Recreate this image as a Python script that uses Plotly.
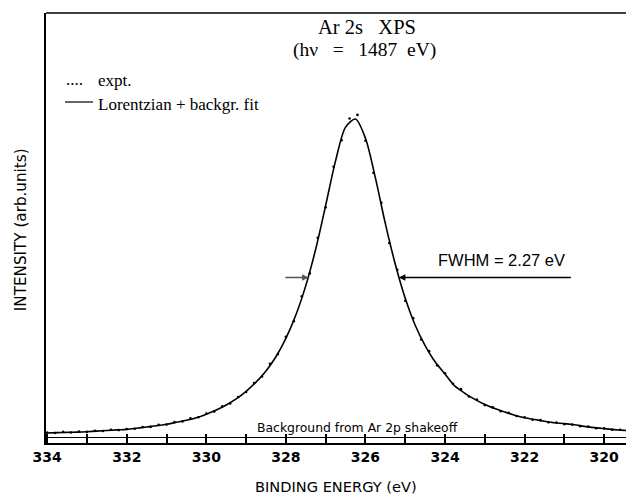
import plotly.graph_objects as go

# ---- data (intensity in arb. units) ----
fit_energy = [334.00, 333.75, 333.50, 333.25, 333.00, 332.75, 332.50, 332.25, 332.00,
              331.75, 331.50, 331.25, 331.00, 330.75, 330.50, 330.25, 330.00, 329.75,
              329.50, 329.25, 329.00, 328.75, 328.50, 328.25, 328.00, 327.75, 327.50,
              327.25, 327.00, 326.75, 326.50, 326.25, 326.00, 325.75, 325.50, 325.25,
              325.00, 324.75, 324.50, 324.25, 324.00, 323.75, 323.50, 323.25, 323.00,
              322.75, 322.50, 322.25, 322.00, 321.75, 321.50, 321.25, 321.00, 320.75,
              320.50, 320.25, 320.00, 319.75, 319.50, 319.25]
fit_intensity = [4.0, 4.3, 4.6, 4.8, 5.2, 5.8, 6.4, 7.0, 7.5,
                 8.6, 9.8, 11.0, 12.5, 14.5, 16.5, 19.0, 22.5, 26.5,
                 31.5, 37.5, 45.0, 54.0, 65.0, 79.0, 97.0, 120.0, 149.0,
                 185.0, 228.0, 272.0, 305.0, 313.0, 294.0, 255.0, 210.0, 170.0,
                 136.5, 110.0, 90.0, 74.0, 62.0, 50.0, 43.0, 37.0, 32.0,
                 28.0, 24.5, 21.5, 19.0, 17.2, 15.5, 14.0, 13.2, 12.0,
                 10.5, 9.2, 8.2, 7.3, 6.5, 5.8]

expt_energy = [334.0, 333.8, 333.6, 333.4, 333.2, 333.0, 332.8, 332.6, 332.4, 332.2,
               332.0, 331.8, 331.6, 331.4, 331.2, 331.0, 330.8, 330.6, 330.4, 330.2,
               330.0, 329.8, 329.6, 329.4, 329.2, 329.0, 328.8, 328.6, 328.4, 328.2,
               328.0, 327.8, 327.6, 327.4, 327.2, 327.0, 326.8, 326.6, 326.4, 326.2,
               326.0, 325.8, 325.6, 325.4, 325.2, 325.0, 324.8, 324.6, 324.4, 324.2,
               324.0, 323.8, 323.6, 323.4, 323.2, 323.0, 322.8, 322.6, 322.4, 322.2,
               322.0, 321.8, 321.6, 321.4, 321.2, 321.0, 320.8, 320.6, 320.4, 320.2,
               320.0, 319.8, 319.6, 319.4]
expt_intensity = [4.3, 3.9, 5.0, 4.4, 5.4, 5.0, 6.1, 5.9, 7.1, 6.8,
                  7.9, 8.1, 9.9, 10.0, 12.0, 12.2, 14.6, 15.3, 18.3, 19.4,
                  23.2, 25.0, 30.1, 33.0, 39.4, 44.3, 53.2, 59.6, 72.0, 81.6,
                  98.5, 114.0, 138.5, 161.0, 196.0, 226.0, 266.0, 292.0, 313.5, 317.0,
                  291.5, 260.0, 230.5, 191.0, 164.5, 134.0, 117.0, 96.0, 84.5, 70.5,
                  62.8, 52.3, 47.1, 39.8, 36.8, 31.4, 29.2, 25.3, 23.9, 20.6,
                  19.5, 17.0, 16.6, 14.4, 14.2, 12.5, 12.2, 10.7, 10.4, 8.7,
                  8.5, 7.2, 7.1, 5.8]

tick_values = [334, 333, 332, 331, 330, 329, 328, 327, 326, 325, 324, 323, 322, 321, 320]
tick_labels = ["334", "", "332", "", "330", "", "328", "", "326", "", "324", "", "322", "", "320"]

# FWHM marker positions (energy of half maximum on each side, half-max intensity)
fwhm_left_e = 327.43
fwhm_right_e = 325.16
fwhm_level = 157.0
fwhm_left_tail = 328.05
fwhm_right_tail = 320.8

fig = go.Figure()
fig.add_trace(go.Scatter(x=fit_energy, y=fit_intensity, mode="lines",
                         line=dict(color="black", width=1.6, shape="spline", smoothing=0.8),
                         hoverinfo="skip", showlegend=False))
fig.add_trace(go.Scatter(x=expt_energy, y=expt_intensity, mode="markers",
                         marker=dict(color="black", size=2.6),
                         showlegend=False))

serif = "Liberation Serif"
sans = "DejaVu Sans"


def note(text, x, y, size, family, xanchor="center", **kw):
    return dict(text=text, x=x, y=y, xref="paper", yref="paper", showarrow=False,
                xanchor=xanchor, yanchor="middle", borderpad=0,
                font=dict(family=family, size=size, color="black"), **kw)


annotations = [
    note("Ar 2s&nbsp;&nbsp;&nbsp;XPS", 0.546, 0.968, 20.5, serif),
    note("(hν&nbsp;&nbsp;&nbsp;=&nbsp;&nbsp;&nbsp;1487&nbsp;&nbsp;eV)", 0.541, 0.914, 19.5, serif),
    note("....", 0.0323, 0.846, 17, serif, xanchor="left"),
    note("expt.", 0.0867, 0.842, 17, serif, xanchor="left"),
    note("Lorentzian + backgr. fit", 0.0867, 0.788, 17, serif, xanchor="left"),
    note("FWHM = 2.27 eV", 0.665, 0.4256, 16.5, "Liberation Sans", xanchor="left"),
    note("Background from Ar 2p shakeoff", 0.5298, 0.036, 12.4, sans),
    note("BINDING ENERGY (eV)", 0.493, -0.1, 14.6, sans),
    note("INTENSITY (arb.units)", -0.0425, 0.495, 15.2, sans, textangle=-90),
    # FWHM arrows
    dict(text="", x=fwhm_left_e, y=fwhm_level, ax=fwhm_left_tail, ay=fwhm_level,
         xref="x", yref="y", axref="x", ayref="y", showarrow=True,
         arrowhead=2, arrowsize=1, arrowwidth=1.3, arrowcolor="#555"),
    dict(text="", x=fwhm_right_e, y=fwhm_level, ax=fwhm_right_tail, ay=fwhm_level,
         xref="x", yref="y", axref="x", ayref="y", showarrow=True,
         arrowhead=2, arrowsize=1, arrowwidth=1.3, arrowcolor="black"),
]

shapes = [
    # top frame line
    dict(type="line", xref="paper", yref="paper", x0=0, x1=1, y0=1, y1=1,
         line=dict(color="black", width=1.6)),
    # legend line sample
    dict(type="line", xref="paper", yref="paper", x0=0.0323, x1=0.0799, y0=0.793, y1=0.793,
         line=dict(color="black", width=1.2)),
]

# the page body adds an 8px offset, so the figure is 8px smaller than the window
fig.update_layout(
    width=626, height=490,
    margin=dict(l=38, r=0, t=5, b=55),
    paper_bgcolor="white", plot_bgcolor="white",
    annotations=annotations, shapes=shapes,
    showlegend=False,
    xaxis=dict(range=[334.03, 319.25], tickmode="array", tickvals=tick_values,
               ticktext=tick_labels, ticks="inside", ticklen=9, tickwidth=1.6,
               tickcolor="black", showline=True, linecolor="black", linewidth=1.6,
               showgrid=False, zeroline=False,
               tickfont=dict(family=sans, size=14, color="black", weight="bold")),
    yaxis=dict(range=[-5.9, 417.3], showticklabels=False, ticks="", showgrid=False,
               showline=True, linecolor="black", linewidth=1.6,
               zeroline=True, zerolinecolor="black", zerolinewidth=1.3),
)

fig.write_html("out.html")
